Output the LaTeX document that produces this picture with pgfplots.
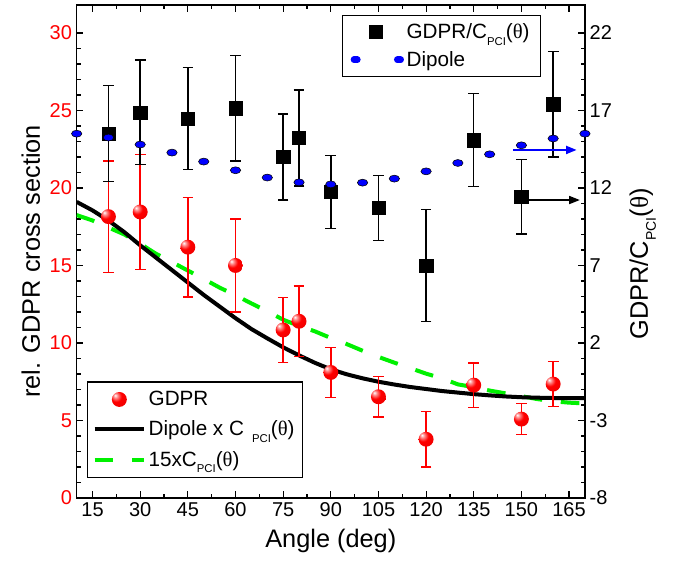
\documentclass[border=0pt]{standalone}
\usepackage{pgfplots}
\pgfplotsset{compat=1.18}
\usepackage{fontspec}
\setmainfont{Liberation Sans}
\newfontfamily\thetafont{Liberation Serif}
\usetikzlibrary{arrows.meta}
\newcommand{\sub}[1]{\raisebox{-5pt}{\fontsize{8.5}{9}\selectfont #1}}
\newcommand{\subL}[1]{\raisebox{-6pt}{\fontsize{10.5}{11}\selectfont #1}}
\newcommand{\thet}{({\thetafont θ})}
\definecolor{lime}{RGB}{0,240,0}
\pgfdeclareradialshading{redball}{\pgfpoint{-14bp}{14bp}}{%
  color(0bp)=(white); color(7bp)=(red!45!white); color(18bp)=(red);
  color(40bp)=(red!92!black); color(60bp)=(red!75!black); color(75bp)=(red!70!black)}
\pgfdeclareplotmark{rball}{%
  \pgfpathcircle{\pgfpointorigin}{\pgfplotmarksize}%
  \pgfshadepath{redball}{0}%
  \pgfusepath{discard}}

\pgfplotstableread{
x y e
20 18.15 3.6
30 18.45 3.7
45 16.18 3.2
60 15.0 3.0
75 10.84 2.1
80 11.4 2.27
90 8.1 1.62
105 6.53 1.3
120 3.79 1.8
135 7.28 1.44
150 5.09 1.0
160 7.35 1.45
}\gdpr

\pgfplotstableread{
x y e
20 15.5 3.1
30 16.87 3.37
45 16.48 3.3
60 17.13 3.4
75 14.0 2.78
80 15.23 3.1
90 11.74 2.35
105 10.71 2.1
120 7.0 3.6
135 15.08 3.0
150 11.42 2.4
160 17.4 3.4
}\ratio

\pgfplotstableread{
x y
10 15.5
20 15.25
30 14.8
40 14.28
50 13.7
60 13.14
70 12.67
80 12.36
90 12.23
100 12.34
110 12.6
120 13.07
130 13.61
140 14.17
150 14.75
160 15.19
170 15.5
}\dipole

\pgfplotstableread{
x y
10 19.1
15 18.55
20 17.9
25 17.15
30 16.3
35 15.5
40 14.7
45 13.9
50 13.1
55 12.35
60 11.6
65 10.9
70 10.3
75 9.72
80 9.2
85 8.72
90 8.3
95 7.98
100 7.72
105 7.5
110 7.32
115 7.16
120 7.03
125 6.9
130 6.8
135 6.7
140 6.62
145 6.55
150 6.5
155 6.47
160 6.45
165 6.44
170 6.44
}\dipc

\pgfplotstableread{
x y
10 18.25
15 17.9
20 17.45
25 17.0
30 16.4
35 15.75
40 15.22
45 14.67
50 14.13
55 13.57
60 13.08
65 12.55
70 12.05
75 11.5
80 11.1
85 10.75
90 10.32
95 9.93
100 9.5
105 9.1
110 8.73
115 8.38
120 8.02
125 7.72
130 7.33
135 7.15
140 6.93
145 6.75
150 6.57
155 6.38
160 6.24
165 6.15
170 6.1
}\fifteen

\begin{document}
\begin{tikzpicture}
\useasboundingbox (-57.5pt,-50.25pt) rectangle (448pt,373.5pt);
\pgfplotsset{
  every axis/.append style={
    scale only axis, width=381.2pt, height=369.75pt,
    xmin=10, xmax=170,
    tick align=inside,
    major tick length=5pt, minor tick length=3pt,
    axis line style={line width=1pt},
    every tick/.append style={line width=0.9pt, black},
    tick label style={font=\fontsize{15}{17}\selectfont},
    /pgf/number format/assume math mode=true,
    label style={font=\fontsize{19}{22}\selectfont},
    legend style={draw=black, line width=1pt, font=\fontsize{15.5}{18}\selectfont,
      legend cell align=left, inner xsep=4pt, inner ysep=4pt, row sep=4pt},
    legend image code/.code={\draw[mark repeat=2,mark phase=2,##1] plot coordinates {(0pt,0pt) (18.5pt,0pt) (37pt,0pt)};},
  },
}
\begin{axis}[
  ymin=0, ymax=31.8,
  xtick={15,30,...,165}, minor x tick num=1,
  ytick={0,5,...,30}, minor y tick num=4,
  ytick pos=left, xtick pos=both,
  yticklabel style={red},
  xlabel={Angle (deg)}, ylabel={rel. GDPR cross section},
  xlabel style={at={(axis description cs:0.5,-0.1014)}, anchor=base},
  ylabel style={at={(axis description cs:-0.0722,0.48)}, anchor=base},
  legend style={at={(0.0197,0.040)}, anchor=south west, row sep=6pt, inner ysep=5pt},
  reverse legend,
]
\addplot[lime, line width=3pt, dash pattern=on 14pt off 14pt] table[x=x,y=y]{\fifteen};
\addlegendentry{15xC\sub{PCI}\thet}
\addplot[black, line width=3pt] table[x=x,y=y]{\dipc};
\addlegendentry{Dipole x C\hspace{6pt}\sub{PCI}\thet}
\addplot[only marks, mark=rball, mark size=5.6pt,
  error bars/.cd, y dir=both, y explicit,
  error bar style={red, line width=1.1pt},
  error mark options={rotate=90, red, mark size=4pt, line width=1.1pt}]
  table[x=x,y=y,y error=e]{\gdpr};
\addlegendentry{GDPR}
\end{axis}
\begin{axis}[
  ymin=-8, ymax=23.8,
  axis x line=none, axis y line*=right,
  ytick={-8,-3,...,22}, minor y tick num=4,
  ylabel={GDPR/C\subL{PCI}\thet},
  ylabel style={at={(axis description cs:1.124,0.475)}, anchor=base},
  legend style={at={(0.9134,0.9797)}, anchor=north east, inner xsep=6pt},
]
\addplot[only marks, mark=square*, mark size=5pt, mark options={black},
  error bars/.cd, y dir=both, y explicit,
  error bar style={black, line width=1.1pt},
  error mark options={rotate=90, black, mark size=4pt, line width=1.1pt}]
  table[x=x,y=y,y error=e]{\ratio};
\addlegendentry{GDPR/C\sub{PCI}\thet}
\addplot[only marks, mark=*, mark size=2.6pt, mark options={xscale=1.5, fill=blue, draw=none},
  legend image code/.code={\draw[blue, line width=5pt, line cap=round, dash pattern=on 2.5pt off 30pt] (2pt,0pt) -- (37pt,0pt);}]
  table[x=x,y=y]{\dipole};
\addlegendentry{Dipole}
\draw[blue, line width=1.5pt, -{Triangle[length=8pt,width=6pt]}] (axis cs:147.3,14.45) -- (axis cs:167.4,14.45);
\draw[black, line width=1.1pt, -{Triangle[length=8pt,width=6pt]}] (axis cs:151.7,11.22) -- (axis cs:168.4,11.22);
\end{axis}
\end{tikzpicture}
\end{document}
